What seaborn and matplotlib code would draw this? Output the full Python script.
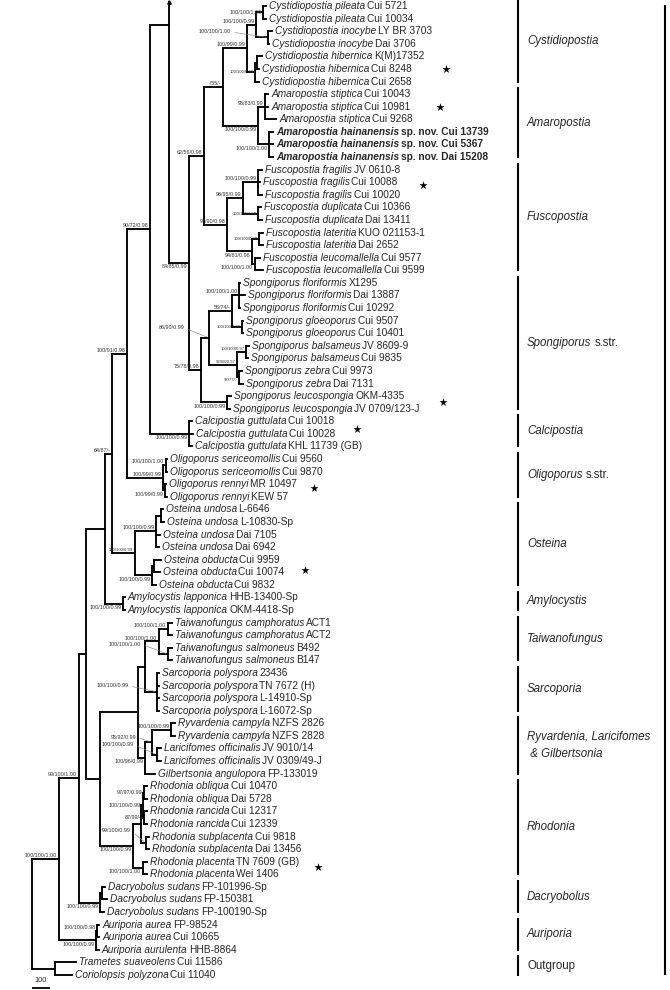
import re
import pandas as pd
import matplotlib
matplotlib.use("Agg")
import matplotlib.pyplot as plt
import matplotlib.transforms as mtransforms
import seaborn as sns

sns.set_theme(style="white")
plt.rcParams['font.family'] = ['Liberation Sans', 'DejaVu Sans']

# tree topology, branch lengths in scale-bar units (bar = 100)
newick = """
(((((((((((((((t0:17,t1:17)PIL:40,(t2:23,t3:6)INO:69)PI:51,
((t4:29,t5:11)H45:11,t6:23)HIB:46)CYS:137,
((t7:17,t8:17,t9:63)STI:40,(t10:23,t11:23,t12:23)HAI:63)AMA:200)M:109,
(((t13:23,t14:11,t15:23)FRA:86,(t16:17,t17:23)DUP:86)FRD:91,
((t18:23,t19:23)LAT:40,(t20:29,t21:46)LEU:17)LL:143)FUS:131)L:86,
((((t22:6,t23:34,t24:6)FLO:40,(t25:6,t26:6)GLO:57)FG:131,
((t27:17,t28:11)BAL:51,(t29:17,t30:23)ZEB:11)BZ:160)SPOa:46,
(t31:23,t32:17)LEC:149)SPO:69)K:114)J:109,
(t33:17,t34:23,t35:17)CAL:223)I:131,
((t36:9,t37:9)SER:14,(t38:6,t39:11)REN:11)OLI:206)H:86,
(((t40:11,t41:17)U01:29,t42:23,t43:17)UND:120,
((t44:40,t45:34)O45:11,t46:23)OBD:97)OST:131)G:40,
(t47:11,t48:11)AMY:103)F:109,
(((((t49:23,t50:23)CAM:51,(t51:23,t52:23)SAL:51)TW:80,
(t53:11,t54:11,t55:11,t56:11)SAR:69)TS:40,
(((t57:23,t58:23)RYV:109,(t59:23,t60:23)LAR:29)RL:40,t61:57)RLG:40)E:217,
((((t62:17,t63:17)OBL:9,(t64:20,t65:20)RAN:6)OR:9,(t66:20,t67:20)SUB:26)RHOa:46,
(t68:23,t69:23)PLA:57)RHO:189)D:80)C:40,
((t70:17,t71:29)D01:11,t72:23)DAC:120)B:114,
((t73:9,t74:9)AUa:9,t75:17)AUR:211)A:154,
(t76:120,t77:97)OUT:131)R;
"""

species = [
    "Cystidiopostia pileata", "Cystidiopostia pileata", "Cystidiopostia inocybe",
    "Cystidiopostia inocybe", "Cystidiopostia hibernica", "Cystidiopostia hibernica",
    "Cystidiopostia hibernica", "Amaropostia stiptica", "Amaropostia stiptica",
    "Amaropostia stiptica", "Amaropostia hainanensis", "Amaropostia hainanensis",
    "Amaropostia hainanensis", "Fuscopostia fragilis", "Fuscopostia fragilis",
    "Fuscopostia fragilis", "Fuscopostia duplicata", "Fuscopostia duplicata",
    "Fuscopostia lateritia", "Fuscopostia lateritia", "Fuscopostia leucomallella",
    "Fuscopostia leucomallella", "Spongiporus floriformis", "Spongiporus floriformis",
    "Spongiporus floriformis", "Spongiporus gloeoporus", "Spongiporus gloeoporus",
    "Spongiporus balsameus", "Spongiporus balsameus", "Spongiporus zebra",
    "Spongiporus zebra", "Spongiporus leucospongia", "Spongiporus leucospongia",
    "Calcipostia guttulata", "Calcipostia guttulata", "Calcipostia guttulata",
    "Oligoporus sericeomollis", "Oligoporus sericeomollis", "Oligoporus rennyi",
    "Oligoporus rennyi", "Osteina undosa", "Osteina undosa", "Osteina undosa",
    "Osteina undosa", "Osteina obducta", "Osteina obducta", "Osteina obducta",
    "Amylocystis lapponica", "Amylocystis lapponica", "Taiwanofungus camphoratus",
    "Taiwanofungus camphoratus", "Taiwanofungus salmoneus", "Taiwanofungus salmoneus",
    "Sarcoporia polyspora", "Sarcoporia polyspora", "Sarcoporia polyspora",
    "Sarcoporia polyspora", "Ryvardenia campyla", "Ryvardenia campyla",
    "Laricifomes officinalis", "Laricifomes officinalis", "Gilbertsonia angulopora",
    "Rhodonia obliqua", "Rhodonia obliqua", "Rhodonia rancida", "Rhodonia rancida",
    "Rhodonia subplacenta", "Rhodonia subplacenta", "Rhodonia placenta",
    "Rhodonia placenta", "Dacryobolus sudans", "Dacryobolus sudans",
    "Dacryobolus sudans", "Auriporia aurea", "Auriporia aurea", "Auriporia aurulenta",
    "Trametes suaveolens", "Coriolopsis polyzona",
]
vouchers = [
    "Cui 5721", "Cui 10034", "LY BR 3703", "Dai 3706", "K(M)17352", "Cui 8248",
    "Cui 2658", "Cui 10043", "Cui 10981", "Cui 9268", "sp. nov. Cui 13739",
    "sp. nov. Cui 5367", "sp. nov. Dai 15208", "JV 0610-8", "Cui 10088", "Cui 10020",
    "Cui 10366", "Dai 13411", "KUO 021153-1", "Dai 2652", "Cui 9577", "Cui 9599",
    "X1295", "Dai 13887", "Cui 10292", "Cui 9507", "Cui 10401", "JV 8609-9",
    "Cui 9835", "Cui 9973", "Dai 7131", "OKM-4335", "JV 0709/123-J", "Cui 10018",
    "Cui 10028", "KHL 11739 (GB)", "Cui 9560", "Cui 9870", "MR 10497", "KEW 57",
    "L-6646", "L-10830-Sp", "Dai 7105", "Dai 6942", "Cui 9959", "Cui 10074",
    "Cui 9832", "HHB-13400-Sp", "OKM-4418-Sp", "ACT1", "ACT2", "B492", "B147",
    "23436", "TN 7672 (H)", "L-14910-Sp", "L-16072-Sp", "NZFS 2826", "NZFS 2828",
    "JV 9010/14", "JV 0309/49-J", "FP-133019", "Cui 10470", "Dai 5728", "Cui 12317",
    "Cui 12339", "Cui 9818", "Dai 13456", "TN 7609 (GB)", "Wei 1406",
    "FP-101996-Sp", "FP-150381", "FP-100190-Sp", "FP-98524", "Cui 10665",
    "HHB-8864", "Cui 11586", "Cui 11040",
]
new_taxa = [10, 11, 12]

# node supports (MP/ML/BI)
support = {
    "A": "100/100/1.00", "B": "99/100/1.00", "G": "64/87/-", "H": "100/91/0.98",
    "I": "90/72/0.98", "K": "84/85/0.99", "L": "62/56/0.98", "M": "-/55/-",
    "CYS": "100/99/0.99", "PI": "100/100/0.99", "PIL": "100/100/1.00",
    "INO": "100/100/1.00", "HIB": "100/100/0.99", "AMA": "100/100/0.99",
    "STI": "95/83/0.99", "HAI": "100/100/1.00", "FUS": "97/90/0.98",
    "FRD": "98/95/0.99", "FRA": "100/100/0.99", "DUP": "100/100/1.00",
    "LL": "94/81/0.96", "LAT": "100/100/0.99", "LEU": "100/100/1.00",
    "SPO": "75/78/0.98", "SPOa": "86/90/0.99", "FG": "56/74/-",
    "FLO": "100/100/1.00", "GLO": "100/100/1.00", "BZ": "92/68/0.97",
    "BAL": "100/100/0.97", "ZEB": "97/77/-", "LEC": "100/100/0.99",
    "CAL": "100/100/0.99", "OLI": "100/99/0.99", "SER": "100/100/1.00",
    "REN": "100/99/0.99", "OST": "100/100/0.99", "UND": "100/100/0.99",
    "OBD": "100/100/0.99", "AMY": "100/100/0.99", "TW": "100/100/1.00",
    "CAM": "100/100/1.00", "SAL": "100/100/1.00", "SAR": "100/100/0.99",
    "RLG": "100/96/0.99", "RL": "95/92/0.99", "RYV": "100/100/0.99",
    "LAR": "100/100/0.99", "RHO": "100/100/0.99", "OR": "100/100/0.99",
    "OBL": "97/97/0.99", "RAN": "87/99/-", "SUB": "99/100/0.99",
    "PLA": "100/100/1.00", "DAC": "100/100/0.99", "AUR": "100/100/0.99",
    "AUa": "100/100/0.98",
}
below = {"K", "AMA", "HAI", "LL", "LEU", "ZEB", "LEC", "CAL", "REN", "OBD", "AMY",
         "RLG", "RHO", "PLA", "DAC", "AUR"}
beside = {"PIL", "HIB", "DUP", "LAT", "GLO", "OR", "OBL", "RAN"}
tiny = {"HIB", "DUP", "LAT", "GLO", "BAL", "OST", "BZ", "ZEB"}
# labels moved off the node with a leader line, offset in pixels
leaders = {"INO": (-37, -5.5), "SPOa": (-25, -10), "SAL": (-27, -10),
           "SAR": (-28, -6), "RL": (-16, -5), "LAR": (-23, -10), "SUB": (-14.5, -12)}
pinned = {"J": 1.5}

clade_names = ["Cystidiopostia", "Amaropostia", "Fuscopostia", "Spongiporus|s.str.",
               "Calcipostia", "Oligoporus|s.str.", "Osteina", "Amylocystis",
               "Taiwanofungus", "Sarcoporia", "Ryvardenia, Laricifomes\n & Gilbertsonia",
               "Rhodonia", "Dacryobolus", "Auriporia", "|Outgroup"]
clade_first = [0, 7, 13, 22, 33, 36, 40, 47, 49, 53, 57, 62, 70, 73, 76]
clade_last = [6, 12, 21, 32, 35, 39, 46, 48, 52, 56, 61, 69, 72, 75, 77]

star_rows = [5, 8, 14.2, 31.5, 33.6, 38.3, 44.8, 68.4]
star_px = [446, 440, 423, 443, 357, 314, 305, 318]

assert len(species) == len(vouchers) == 78


def parse(s):
    s = re.sub(r"\s+", "", s).rstrip(";")
    pos = 0

    def node():
        nonlocal pos
        kids = []
        if s[pos] == "(":
            pos += 1
            while True:
                kids.append(node())
                if s[pos] == ",":
                    pos += 1
                    continue
                pos += 1
                break
        m = re.match(r"([A-Za-z0-9]*)(?::([0-9.]+))?", s[pos:])
        pos += m.end()
        return {"name": m.group(1), "len": float(m.group(2) or 0), "kids": kids}

    return node()


tree = parse(newick)
nodes = {}


def layout(nd, x0):
    nd["x"] = x0 + nd["len"]
    nodes[nd["name"]] = nd
    if nd["kids"]:
        for k in nd["kids"]:
            layout(k, nd["x"])
        nd["y"] = (nd["kids"][0]["y"] + nd["kids"][-1]["y"]) / 2
    else:
        nd["y"] = int(nd["name"][1:])
    if nd["name"] in pinned:
        nd["y"] = pinned[nd["name"]]


layout(tree, 0)

rows = []


def add_seg(p0, p1):
    sid = len(rows) // 2
    rows.append({"seg": sid, "x": p0[0], "y": p0[1]})
    rows.append({"seg": sid, "x": p1[0], "y": p1[1]})


def walk(nd, parent=None):
    if parent is not None:
        add_seg((parent["x"], nd["y"]), (nd["x"], nd["y"]))
    if nd["kids"]:
        ys = [k["y"] for k in nd["kids"]] + [nd["y"]]
        add_seg((nd["x"], min(ys)), (nd["x"], max(ys)))
        for k in nd["kids"]:
            walk(k, nd)


walk(tree)
add_seg((nodes["J"]["x"], -0.3), (nodes["J"]["x"], nodes["J"]["y"]))
segs = pd.DataFrame(rows)

W, H = 670, 990
px_unit = 17.5 / 100   # pixels per tree unit
row_h = 12.584         # pixels per leaf row
x_root = 32

fig = plt.figure(figsize=(W / 100, H / 100), dpi=100)
ax = fig.add_axes([0, 0, 1, 1])

sns.lineplot(data=segs, x="x", y="y", units="seg", estimator=None, sort=False,
             color="black", linewidth=1.35, solid_capstyle="projecting",
             legend=False, ax=ax)
ax.plot([nodes["J"]["x"]], [-0.3], marker="^", ms=2.5, color="black")

# leaf labels
fs_leaf = 7.3
for i in range(78):
    nd = nodes[f"t{i}"]
    wt = "bold" if i in new_taxa else "normal"
    t1 = ax.annotate(species[i], xy=(nd["x"], i), xytext=(2.2, 0),
                     textcoords="offset points", ha="left", va="center",
                     fontsize=fs_leaf, style="italic", weight=wt)
    ax.annotate(vouchers[i], xy=(1, 0), xycoords=t1, xytext=(1.1, 0),
                textcoords="offset points", ha="left", va="bottom",
                fontsize=fs_leaf, weight=wt)

# support values
for name, lab in support.items():
    nd = nodes[name]
    fs = 3.1 if name in tiny else 3.9
    if name in leaders:
        dx, dy = leaders[name]
        ax.annotate(lab, xy=(nd["x"], nd["y"]), xytext=(dx * 0.72, -dy * 0.72),
                    textcoords="offset points", ha="right", va="center",
                    fontsize=fs, color="0.2",
                    arrowprops=dict(arrowstyle="-", color="0.5", lw=0.4,
                                    relpos=(1, 0.5), shrinkA=0.5, shrinkB=1.5))
    elif name in below:
        ax.annotate(lab, xy=(nd["x"], nd["y"]), xytext=(-1.2, -0.9),
                    textcoords="offset points", ha="right", va="top",
                    fontsize=fs, color="0.2")
    elif name in beside:
        ax.annotate(lab, xy=(nd["x"], nd["y"]), xytext=(-1.2, 0),
                    textcoords="offset points", ha="right", va="center",
                    fontsize=fs, color="0.2")
    else:
        ax.annotate(lab, xy=(nd["x"], nd["y"]), xytext=(-1.2, 0.7),
                    textcoords="offset points", ha="right", va="bottom",
                    fontsize=fs, color="0.2")

# stars for sequences generated in this study
trans = mtransforms.blended_transform_factory(ax.transAxes, ax.transData)
ax.scatter([p / W for p in star_px], star_rows, marker="*", s=38,
           color="black", linewidths=0, transform=trans, zorder=3)

# clade bars and names
bar_x = 518 / W
lab_x = 527 / W
for name, a, b in zip(clade_names, clade_first, clade_last):
    y0, y1 = a - 0.55, b + 0.08
    ax.plot([bar_x, bar_x], [y0, y1], color="black", lw=1.5, transform=trans,
            solid_capstyle="butt")
    ym = (y0 + y1) / 2
    ital, _, rest = name.partition("|")
    if ital:
        t1 = ax.text(lab_x, ym, ital, transform=trans, ha="left", va="center",
                     fontsize=8.3, style="italic", linespacing=1.6)
        if rest:
            ax.annotate(rest, xy=(1, 0), xycoords=t1, xytext=(2.2, 0),
                        textcoords="offset points", ha="left", va="bottom",
                        fontsize=8.3)
    else:
        ax.text(lab_x, ym, rest, transform=trans, ha="left", va="center",
                fontsize=8.3)
ax.plot([665 / W, 665 / W], [-0.1, 77.0], color="black", lw=1.5,
        transform=trans, solid_capstyle="butt")

# scale bar
ax.plot([0, 100], [78.0, 78.0], color="black", lw=1.3, solid_capstyle="butt")
ax.text(50, 77.75, "100", ha="center", va="bottom", fontsize=5.3)

ax.set_xlim(-x_root / px_unit, (W - x_root) / px_unit)
ax.set_ylim((H - 6) / row_h, -6 / row_h)
ax.axis("off")
fig.savefig("out.png", dpi=100)
